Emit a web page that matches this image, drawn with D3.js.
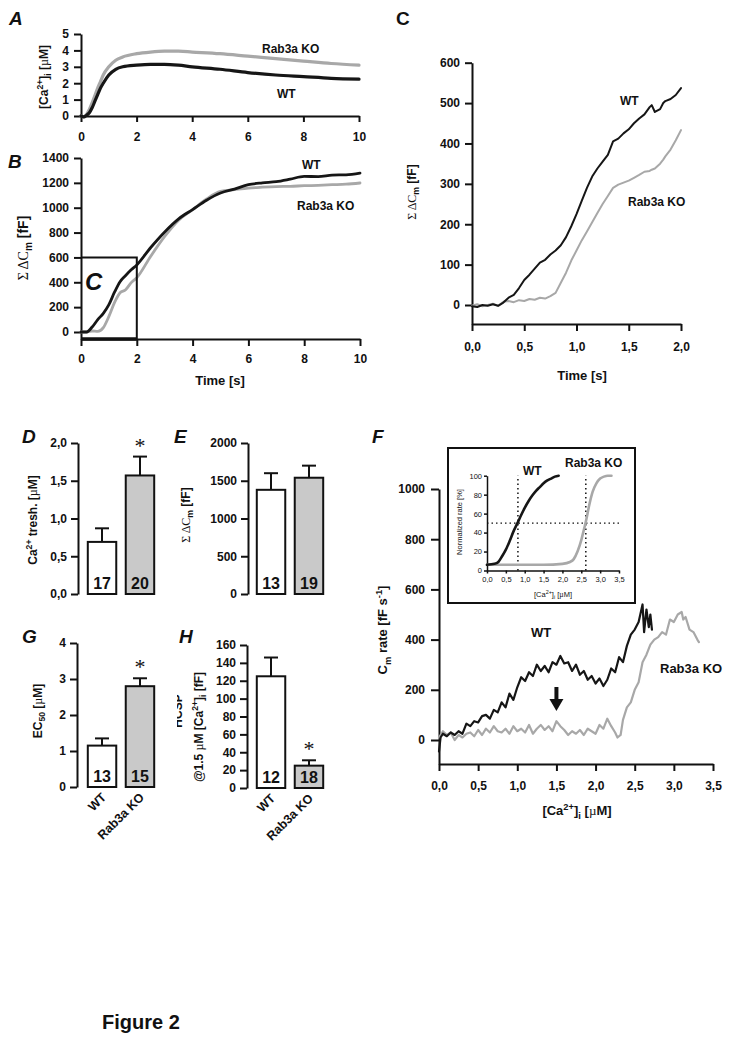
<!DOCTYPE html>
<html><head><meta charset="utf-8">
<script src="https://cdn.jsdelivr.net/npm/d3@7"></script>
<style>body{margin:0;background:#fff}</style>
</head><body>
<svg id="fig" width="730" height="1043"></svg>
<script>
// ---------- DATA ----------
const groups = ["WT", "Rab3a KO"];
// Panel A: [Ca2+]i (µM) vs time (s)
const timeA = [0,0.1,0.2,0.3,0.4,0.5,0.6,0.7,0.8,1.0,1.25,1.5,2.0,2.5,3.0,3.5,4,5,6,7,8,9,10];
const caWT  = [0,-0.05,0.05,0.2,0.5,0.9,1.3,1.7,2.0,2.5,2.85,3.0,3.1,3.15,3.15,3.1,3.0,2.85,2.65,2.5,2.4,2.3,2.25];
const caKO  = [0,-0.05,0.1,0.4,0.8,1.25,1.7,2.1,2.5,3.0,3.4,3.6,3.8,3.9,3.95,3.95,3.9,3.8,3.65,3.5,3.35,3.2,3.1];
const ticksA_y = [0,1,2,3,4,5];
const ticksTime = [0,2,4,6,8,10];
// Panel B: cumulative capacitance (fF) vs time (s)
const timeB = [0,0.2,0.4,0.6,0.8,1.0,1.2,1.4,1.6,1.8,2.0,2.5,3.0,3.5,4.0,4.5,5.0,5.5,6.0,6.5,7.0,7.5,8.0,8.5,9.0,9.5,10];
const cmWT_B = [0,0,40,100,150,220,320,405,455,500,540,680,805,910,985,1060,1118,1150,1185,1200,1210,1230,1252,1250,1262,1265,1279];
const cmKO_B = [0,0,8,5,35,126,236,316,340,397,437,610,769,900,984,1070,1131,1145,1158,1165,1170,1172,1177,1180,1185,1190,1199];
const ticksB_y = [0,200,400,600,800,1000,1200,1400];
// Panel C: zoom of B (0-2 s)
const timeC = [0,0.05,0.1,0.15,0.2,0.25,0.3,0.35,0.4,0.45,0.5,0.55,0.6,0.65,0.7,0.75,0.8,0.85,0.9,0.95,1.0,1.05,1.1,1.15,1.2,1.25,1.3,1.35,1.4,1.45,1.5,1.55,1.6,1.65,1.7,1.72,1.75,1.8,1.83,1.85,1.9,1.95,2.0];
const cmWT_C = [-3,-5,0,-2,2,-2,6,18,25,42,62,75,90,105,112,125,135,148,168,195,225,258,290,318,338,355,372,405,412,425,435,450,462,472,490,495,478,485,500,505,510,520,537];
const cmKO_C = [-2,2,-3,0,3,-2,8,10,7,12,10,15,13,18,16,22,30,55,80,110,135,160,182,205,228,250,270,290,298,303,308,315,322,330,332,335,338,350,360,368,385,408,433];
const ticksC_y = [0,100,200,300,400,500,600];
const ticksC_x = [0,0.5,1.0,1.5,2.0];
// Panel D: Ca2+ threshold (µM)
const threshMean = [0.69, 1.57], threshErr = [0.87, 1.82], threshN = [17, 20];
const ticksD = [0,0.5,1.0,1.5,2.0];
// Panel E: total ΔCm (fF)
const totalMean = [1380, 1540], totalErr = [1600, 1700], totalN = [13, 19];
const ticksE = [0,500,1000,1500,2000];
// Panel G: EC50 (µM)
const ec50Mean = [1.15, 2.8], ec50Err = [1.35, 3.02], ec50N = [13, 15];
const ticksG = [0,1,2,3,4];
// Panel H: HCSP @1.5 µM (fF)
const hcspMean = [125, 25], hcspErr = [146, 31], hcspN = [12, 18];
const ticksH = [0,20,40,60,80,100,120,140,160];
// Panel F: Cm rate (fF/s) vs [Ca2+]i (µM)
const caF_WT = [0,0.02,0.05,0.1,0.15,0.2,0.25,0.3,0.35,0.4,0.45,0.5,0.55,0.6,0.65,0.7,0.75,0.8,0.85,0.9,0.95,1.0,1.05,1.1,1.15,1.2,1.25,1.3,1.35,1.4,1.45,1.5,1.55,1.6,1.65,1.7,1.75,1.8,1.85,1.9,1.95,2.0,2.05,2.1,2.15,2.2,2.25,2.3,2.35,2.4,2.45,2.5,2.55,2.6,2.62,2.65,2.68,2.7,2.72];
const rateWT = [-45,10,25,15,30,20,35,25,65,55,75,70,95,100,85,120,110,150,130,185,160,210,250,235,270,255,300,275,295,270,310,300,335,305,310,275,300,260,275,240,255,225,245,215,240,285,270,330,310,375,420,440,470,540,430,520,450,500,440];
const caF_KO = [0,0.05,0.1,0.15,0.2,0.25,0.3,0.35,0.4,0.45,0.5,0.55,0.6,0.65,0.7,0.75,0.8,0.85,0.9,0.95,1.0,1.05,1.1,1.15,1.2,1.25,1.3,1.35,1.4,1.45,1.5,1.55,1.6,1.65,1.7,1.75,1.8,1.85,1.9,1.95,2.0,2.05,2.1,2.15,2.2,2.25,2.28,2.32,2.35,2.4,2.45,2.5,2.55,2.6,2.65,2.7,2.75,2.8,2.85,2.9,2.95,3.0,3.05,3.1,3.12,3.15,3.2,3.25,3.3,3.32];
const rateKO = [10,35,20,30,0,20,10,25,30,15,40,20,45,30,55,35,30,45,25,55,35,45,30,60,25,45,60,40,55,35,75,55,40,20,35,25,40,20,45,35,25,60,45,85,55,30,10,20,80,130,150,200,230,310,340,380,400,410,430,420,480,470,500,510,480,490,440,430,400,390];
const ticksF_y = [0,200,400,600,800,1000];
const ticksF_x = [0,0.5,1.0,1.5,2.0,2.5,3.0,3.5];
// Panel F inset: normalized rate (%)
const caIn_WT = [0,0.2,0.3,0.4,0.5,0.6,0.7,0.82,0.9,1.0,1.1,1.2,1.3,1.4,1.5,1.6,1.7,1.8,1.9];
const normWT  = [6,7,9,15,22,31,41,51,58,66,73,79,84,88,92,95,97,99,100];
const caIn_KO = [0,0.5,1.0,1.5,2.0,2.2,2.3,2.4,2.5,2.55,2.6,2.65,2.7,2.8,2.9,3.0,3.1,3.2,3.3];
const normKO  = [6,6,6,6,7,9,12,20,32,40,48,57,67,83,92,97,99,100,100];
const ec50Lines = [0.82, 2.62];
const ticksIn_y = [0,20,40,60,80,100];

// ---------- HELPERS ----------
const FONT = "'Liberation Sans', Arial, Helvetica, sans-serif";
const SERIF = "'Liberation Serif', 'DejaVu Serif', serif";
const WT_C = "#161616", KO_C = "#a8a8a8";
const svg = d3.select("#fig");
svg.append("rect").attr("width",730).attr("height",1043).attr("fill","#fff");
const comma1 = d => d3.format(".1f")(d).replace(".", ",");
const intF = d3.format("d");

function styleAxis(g, fs, weight, sw) {
  g.selectAll("path, line").attr("stroke","#111").attr("stroke-width", sw || 2);
  g.selectAll("text").attr("font-family",FONT).attr("font-size",fs||12)
   .attr("font-weight",weight||"bold").attr("fill","#111");
}
function rich(sel, segs, size) {
  let off = 0;
  segs.forEach(s => {
    const shift = s.sup ? -0.38*size : s.sub ? 0.28*size : 0;
    const ts = sel.append("tspan").text(s.t).attr("dy", shift - off);
    if (s.sup || s.sub) ts.attr("font-size", size*0.72);
    if (s.w) ts.attr("font-weight", s.w);
    if (s.f) ts.attr("font-family", s.f);
    off = shift;
  });
}
function label(x, y, segs, size, opts) {
  opts = opts || {};
  const parent = opts.parent || svg;
  const t = parent.append("text").attr("font-family",FONT).attr("font-size",size)
    .attr("font-weight", opts.w || "bold").attr("fill","#111")
    .attr("text-anchor", opts.anchor || "start");
  if (opts.rot) t.attr("transform",`translate(${x},${y}) rotate(${opts.rot})`);
  else t.attr("x",x).attr("y",y);
  if (opts.style) t.attr("font-style", opts.style);
  if (typeof segs === "string") t.text(segs); else rich(t, segs, size);
  return t;
}
function panelLetter(x, y, s, italic) {
  label(x, y, s, 19, {style: italic === false ? "normal" : "italic"});
}
function drawLine(xs, ys, xSc, ySc, color, w, curve) {
  const pts = xs.map((x,i) => [x, ys[i]]);
  svg.append("path").datum(pts).attr("fill","none").attr("stroke",color)
    .attr("stroke-width",w).attr("stroke-linejoin","round").attr("stroke-linecap","round")
    .attr("d", d3.line().x(d=>xSc(d[0])).y(d=>ySc(d[1])).curve(curve || d3.curveLinear));
}
function barPanel(opts) {
  const x = d3.scaleBand().domain(groups).range(opts.xr).paddingInner(0.25).paddingOuter(0.1);
  const y = d3.scaleLinear().domain(opts.dom).range(opts.yr);
  const gy = svg.append("g").attr("transform",`translate(${opts.axisX},0)`)
    .call(d3.axisLeft(y).tickValues(opts.ticks).tickFormat(opts.fmt || intF)
      .tickSize(7).tickPadding(4).tickSizeOuter(0));
  styleAxis(gy, 12);
  const fills = ["#fff", "#c9c9c9"];
  groups.forEach((gname, i) => {
    const cx = x(gname) + x.bandwidth()/2;
    svg.append("line").attr("x1",cx).attr("x2",cx).attr("y1",y(opts.mean[i])).attr("y2",y(opts.err[i]))
      .attr("stroke","#111").attr("stroke-width",2);
    svg.append("line").attr("x1",cx-7).attr("x2",cx+7).attr("y1",y(opts.err[i])).attr("y2",y(opts.err[i]))
      .attr("stroke","#111").attr("stroke-width",2);
    svg.append("rect").attr("x",x(gname)).attr("y",y(opts.mean[i]))
      .attr("width",x.bandwidth()).attr("height",y(0)-y(opts.mean[i]))
      .attr("fill",fills[i]).attr("stroke","#111").attr("stroke-width",2);
    label(cx, y(0)-5, String(opts.n[i]), 16, {anchor:"middle"});
    if (opts.star && opts.star[i]) {
      svg.append("text").attr("x",cx).attr("y",y(opts.err[i])-4).attr("text-anchor","middle")
        .attr("font-family",SERIF).attr("font-size",22).attr("fill","#111").text("*");
    }
    if (opts.xlabels) {
      label(cx+5, y(0)+11, gname, 12.5, {anchor:"end", rot:-45});
    }
  });
  return {x, y};
}

// ---------- PANEL A ----------
const xA = d3.scaleLinear().domain([0,10]).range([81,359]);
const yA = d3.scaleLinear().domain([0,5]).range([116,34]);
styleAxis(svg.append("g").attr("transform","translate(0,116)")
  .call(d3.axisBottom(xA).tickValues(ticksTime).tickFormat(intF).tickSize(6).tickPadding(10).tickSizeOuter(0)), 12);
styleAxis(svg.append("g").attr("transform","translate(81,0)")
  .call(d3.axisLeft(yA).tickValues(ticksA_y).tickFormat(intF).tickSize(7).tickPadding(5).tickSizeOuter(0)), 12);
drawLine(timeA, caKO, xA, yA, KO_C, 3.2, d3.curveMonotoneX);
drawLine(timeA, caWT, xA, yA, WT_C, 3.2, d3.curveMonotoneX);
panelLetter(9, 25, "A");
label(48, 77, [{t:"[Ca"},{t:"2+",sup:true},{t:"]"},{t:"i",sub:true},{t:" ["},{t:"\u00b5",f:SERIF,w:"normal"},{t:"M]"}], 12, {anchor:"middle", rot:-90});
label(262, 53, "Rab3a KO", 12);
label(277, 98, "WT", 12);

// ---------- PANEL B ----------
const xB = d3.scaleLinear().domain([0,10]).range([81,360]);
const yB = d3.scaleLinear().domain([0,1400]).range([332,158]);
const yBext = yB.copy().domain([yB.invert(339), 1400]).range([339,158]);
styleAxis(svg.append("g").attr("transform","translate(0,339)")
  .call(d3.axisBottom(xB).tickValues(ticksTime).tickFormat(intF).tickSize(7).tickPadding(8).tickSizeOuter(0)), 12);
styleAxis(svg.append("g").attr("transform","translate(81,0)")
  .call(d3.axisLeft(yBext).tickValues(ticksB_y).tickFormat(intF).tickSize(7).tickPadding(5).tickSizeOuter(0)), 12);
drawLine(timeB, cmKO_B, xB, yB, KO_C, 2.8, d3.curveMonotoneX);
drawLine(timeB, cmWT_B, xB, yB, WT_C, 2.8, d3.curveMonotoneX);
svg.append("path").attr("fill","none").attr("stroke","#111").attr("stroke-width",2)
  .attr("d", `M${xB(0)},${yB(600)}H${xB(2)}V339`);
svg.append("line").attr("x1",xB(0)).attr("x2",xB(2)).attr("y1",339).attr("y2",339).attr("stroke","#111").attr("stroke-width",3.5);
label(85, 290, "C", 24, {w:"bold", style:"italic"});
panelLetter(8, 168, "B");
label(28, 248, [{t:"\u03a3 \u0394C",f:SERIF,w:"normal"},{t:"m",sub:true},{t:" [fF]"}], 14, {anchor:"middle", rot:-90});
label(302, 169, "WT", 12);
label(297, 210, "Rab3a KO", 12);
label(220, 385, "Time [s]", 13, {anchor:"middle"});

// ---------- PANEL C ----------
const xC = d3.scaleLinear().domain([0,2]).range([472,681]);
const yC = d3.scaleLinear().domain([0,600]).range([305,62.7]);
const yCext = yC.copy().domain([yC.invert(324), 600]).range([324,62.7]);
styleAxis(svg.append("g").attr("transform","translate(0,324)")
  .call(d3.axisBottom(xC).tickValues(ticksC_x).tickFormat(comma1).tickSize(7).tickPadding(11).tickSizeOuter(0)), 12);
styleAxis(svg.append("g").attr("transform","translate(472,0)")
  .call(d3.axisLeft(yCext).tickValues(ticksC_y).tickFormat(intF).tickSize(7).tickPadding(5).tickSizeOuter(0)), 12);
drawLine(timeC, cmKO_C, xC, yC, KO_C, 2);
drawLine(timeC, cmWT_C, xC, yC, WT_C, 2);
panelLetter(396, 25, "C", false);
label(416, 192, [{t:"\u03a3 \u0394C",f:SERIF,w:"normal"},{t:"m",sub:true},{t:" [fF]"}], 12, {anchor:"middle", rot:-90});
label(620, 105, "WT", 12);
label(628, 206, "Rab3a KO", 12);
label(582, 380, "Time [s]", 13, {anchor:"middle"});

// ---------- PANEL D ----------
barPanel({xr:[84,158], axisX:78, dom:[0,2], yr:[594,443], ticks:ticksD, fmt:comma1,
  mean:threshMean, err:threshErr, n:threshN, star:[false,true]});
panelLetter(22, 443, "D");
label(37, 520, [{t:"Ca"},{t:"2+",sup:true},{t:" tresh. ["},{t:"\u00b5",f:SERIF,w:"normal"},{t:"M]"}], 12, {anchor:"middle", rot:-90});

// ---------- PANEL E ----------
barPanel({xr:[253,327], axisX:248, dom:[0,2000], yr:[594,443], ticks:ticksE,
  mean:totalMean, err:totalErr, n:totalN});
panelLetter(174, 443, "E");
label(190, 515, [{t:"\u03a3 \u0394C",f:SERIF,w:"normal"},{t:"m",sub:true},{t:" [fF]"}], 12, {anchor:"middle", rot:-90});

// ---------- PANEL G ----------
barPanel({xr:[84,158], axisX:77, dom:[0,4], yr:[787,643], ticks:ticksG,
  mean:ec50Mean, err:ec50Err, n:ec50N, star:[false,true], xlabels:true});
panelLetter(22, 643, "G");
label(42, 711, [{t:"EC"},{t:"50",sub:true},{t:" ["},{t:"\u00b5",f:SERIF,w:"normal"},{t:"M]"}], 12, {anchor:"middle", rot:-90});

// ---------- PANEL H ----------
barPanel({xr:[253,327], axisX:247, dom:[0,160], yr:[788,645], ticks:ticksH,
  mean:hcspMean, err:hcspErr, n:hcspN, star:[false,true], xlabels:true});
panelLetter(179, 643, "H");
svg.append("clipPath").attr("id","hclip").append("rect").attr("x",177).attr("y",650).attr("width",20).attr("height",140);
const hg = svg.append("g").attr("clip-path","url(#hclip)");
label(182, 711, "HCSP", 12, {anchor:"middle", rot:-90, parent: hg});
label(203, 727, [{t:"@1.5 "},{t:"\u00b5",f:SERIF,w:"normal"},{t:"M [Ca"},{t:"2+",sup:true},{t:"]"},{t:"i",sub:true},{t:" [fF]"}], 12, {anchor:"middle", rot:-90});

// ---------- PANEL F ----------
const xF = d3.scaleLinear().domain([0,3.5]).range([439,713]);
const yF = d3.scaleLinear().domain([0,1000]).range([740,489]);
const yFext = yF.copy().domain([yF.invert(764), 1000]).range([764,489]);
styleAxis(svg.append("g").attr("transform","translate(0,764)")
  .call(d3.axisBottom(xF).tickValues(ticksF_x).tickFormat(comma1).tickSize(7).tickPadding(10).tickSizeOuter(0)), 12);
styleAxis(svg.append("g").attr("transform","translate(439,0)")
  .call(d3.axisLeft(yFext).tickValues(ticksF_y).tickFormat(intF).tickSize(8).tickPadding(6).tickSizeOuter(0)), 12);
drawLine(caF_KO, rateKO, xF, yF, KO_C, 2.2);
drawLine(caF_WT, rateWT, xF, yF, WT_C, 2.2);
panelLetter(372, 443, "F");
label(387, 630, [{t:"C"},{t:"m",sub:true},{t:" rate [fF s"},{t:"-1",sup:true},{t:"]"}], 13, {anchor:"middle", rot:-90});
label(577, 815, [{t:"[Ca"},{t:"2+",sup:true},{t:"]"},{t:"i",sub:true},{t:" ["},{t:"\u00b5",f:SERIF,w:"normal"},{t:"M]"}], 13, {anchor:"middle"});
label(531, 637, "WT", 13);
label(660, 673, "Rab3a KO", 13);
// arrow
const ax = xF(1.5);
svg.append("line").attr("x1",ax).attr("x2",ax).attr("y1",687).attr("y2",700).attr("stroke","#111").attr("stroke-width",4);
svg.append("path").attr("d",`M${ax-7},699L${ax+7},699L${ax},711Z`).attr("fill","#111");

// inset
svg.append("rect").attr("x",448).attr("y",448).attr("width",187).attr("height",155)
  .attr("fill","#fff").attr("stroke","#111").attr("stroke-width",2);
const xI = d3.scaleLinear().domain([0,3.5]).range([487,619]);
const yI = d3.scaleLinear().domain([0,100]).range([570.5,475.7]);
styleAxis(svg.append("g").attr("transform","translate(0,570.5)")
  .call(d3.axisBottom(xI).tickValues(ticksF_x).tickFormat(comma1).tickSize(3).tickPadding(3).tickSizeOuter(0)), 7.5, "normal", 1.5);
styleAxis(svg.append("g").attr("transform","translate(487,0)")
  .call(d3.axisLeft(yI).tickValues(ticksIn_y).tickFormat(intF).tickSize(3).tickPadding(2).tickSizeOuter(0)), 7.5, "normal", 1.5);
const dot = "1.5,3";
ec50Lines.forEach(c => {
  svg.append("line").attr("x1",xI(c)).attr("x2",xI(c)).attr("y1",yI(0)).attr("y2",yI(100))
    .attr("stroke","#111").attr("stroke-width",1.5).attr("stroke-dasharray",dot);
});
svg.append("line").attr("x1",xI(0)).attr("x2",xI(3.5)).attr("y1",yI(50)).attr("y2",yI(50))
  .attr("stroke","#111").attr("stroke-width",1.2).attr("stroke-dasharray",dot);
drawLine(caIn_KO, normKO, xI, yI, KO_C, 2.6, d3.curveMonotoneX);
drawLine(caIn_WT, normWT, xI, yI, WT_C, 2.6, d3.curveMonotoneX);
label(462, 522, "Normalized rate [%]", 7.5, {anchor:"middle", rot:-90, w:"normal"});
label(553, 597, [{t:"[Ca"},{t:"2+",sup:true},{t:"]"},{t:"i",sub:true},{t:"  ["},{t:"\u00b5",f:SERIF},{t:"M]"}], 7.5, {anchor:"middle", w:"normal"});
label(523, 475, "WT", 12);
label(565, 467, "Rab3a KO", 12);

// ---------- FOOTER ----------
label(102, 1029, "Figure 2", 20);
</script>
</body></html>
